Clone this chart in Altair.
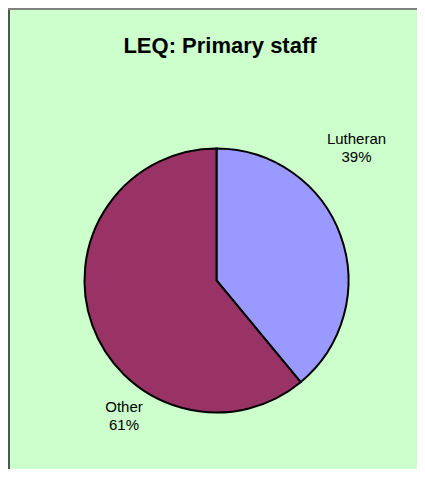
import altair as alt
import pandas as pd

categories = ["Lutheran", "Other"]
percents = [39, 61]
colors = ["#9999FF", "#993366"]
title_text = "LEQ: Primary staff"

df = pd.DataFrame({"category": categories, "percent": percents, "order": [0, 1]})

W, H = 409, 461
CX, CY, R = 208.5, 272.5, 132

base = alt.Chart(df)

pie = base.mark_arc(stroke="black", strokeWidth=2, outerRadius=R).encode(
    theta=alt.Theta("percent:Q", stack=True),
    order=alt.Order("order:Q"),
    color=alt.Color("category:N", scale=alt.Scale(domain=categories, range=colors), legend=None),
    x=alt.value(CX),
    y=alt.value(CY),
)

label_pos = {"Lutheran": (348.5, 136), "Other": (116, 404)}

labels = []
for cat in categories:
    lx, ly = label_pos[cat]
    labels.append(
        base.transform_filter(alt.datum.category == cat)
        .transform_calculate(lab="datum.category + '\\n' + datum.percent + '%'")
        .mark_text(font="Liberation Sans", fontSize=15, color="black", align="center",
                   baseline="alphabetic", lineBreak="\n", lineHeight=18)
        .encode(text="lab:N", x=alt.value(lx), y=alt.value(ly))
    )

title = alt.Chart(pd.DataFrame({"t": [title_text]})).mark_text(
    font="Liberation Sans", fontSize=22, fontWeight="bold", color="black",
    align="center", baseline="alphabetic"
).encode(text="t:N", x=alt.value(212), y=alt.value(44.5))

border_left = alt.Chart(pd.DataFrame({"a": [0]})).mark_rule(color="#4a5a4a", strokeWidth=2).encode(
    x=alt.value(1), y=alt.value(0), y2=alt.value(H)
)
border_top = alt.Chart(pd.DataFrame({"a": [0]})).mark_rule(color="#808080", strokeWidth=2).encode(
    y=alt.value(1), x=alt.value(0), x2=alt.value(W)
)

chart = alt.layer(pie, *labels, title, border_left, border_top).properties(
    width=W, height=H, padding=0, autosize=alt.AutoSizeParams(type="none"),
    background="#CCFFCC",
).configure_view(strokeWidth=0)

chart.save("out.html", embed_options={"renderer": "svg", "actions": False})
